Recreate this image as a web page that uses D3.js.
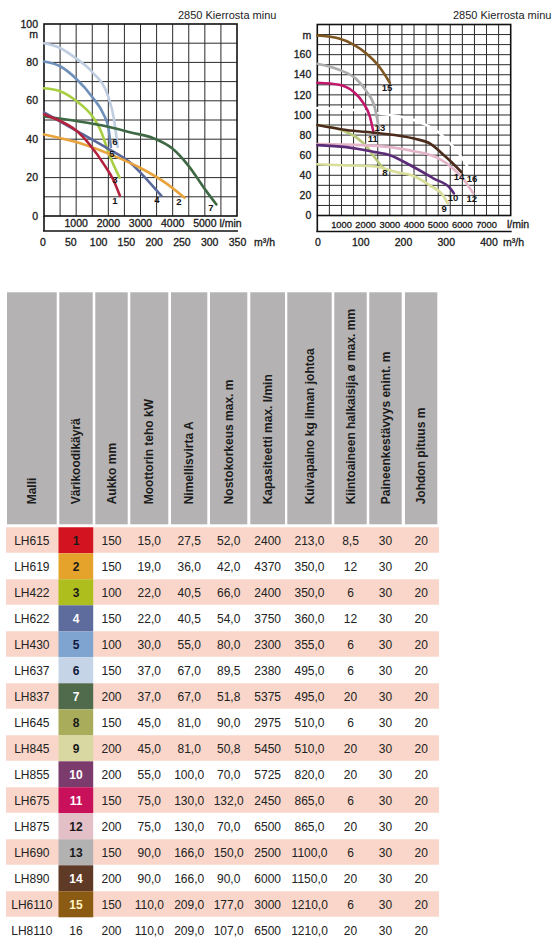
<!DOCTYPE html>
<html>
<head>
<meta charset="utf-8">
<script src="https://cdn.jsdelivr.net/npm/d3@7"></script>
<style>
  html, body { margin: 0; padding: 0; background: #fff; }
  svg { display: block; }
</style>
</head>
<body>
<div id="canvas"></div>
<script>
// Pumppukäyrät (2850 kierrosta) + tekninen taulukko

// --- käyrät: [l/min, m] ---
const curveIds = [1, 2, 3, 4, 5, 6, 7, 8, 9, 10, 11, 12, 13, 14, 15, 16];
const curvePoints = {
  1: [[0,53],[500,49.5],[1000,44.5],[1430,37],[1900,26],[2150,19],[2360,10.5]],
  2: [[0,42.5],[1000,38.5],[2000,32.5],[3000,25],[3800,17],[4370,9.5]],
  3: [[0,66.5],[500,65],[1000,60],[1500,52],[1750,45],[2050,31],[2350,20]],
  4: [[0,54],[1000,44.5],[2000,35],[2700,27.5],[3200,19],[3650,10.5]],
  5: [[0,80.5],[500,78],[1000,71.5],[1500,62],[1850,53],[2000,46],[2080,36]],
  6: [[0,90],[500,87.5],[1000,82],[1500,75],[2000,62],[2170,51],[2290,36]],
  7: [[0,51.8],[1000,49.5],[2000,46.5],[2700,43.5],[3400,40.5],[4000,35],[4500,26],[5000,14],[5360,6]],
  8: [[0,90],[1000,85],[1600,78],[2040,68.5],[2460,55],[2750,47],[2900,45]],
  9: [[0,51],[1000,50],[2300,49],[3300,43],[3900,40],[4650,30],[5200,20],[5400,12]],
  10: [[0,70],[1200,68],[2300,63.5],[3000,60],[3850,50],[4800,37],[5500,27],[5650,22]],
  11: [[0,132],[900,130],[1500,123],[1900,112],[2180,98],[2330,82]],
  12: [[0,71],[1900,70],[3000,68],[4000,64],[5000,57],[5600,47],[6050,36],[6450,22]],
  13: [[0,151],[900,145],[1600,136],[2050,123],[2380,107],[2550,86]],
  14: [[0,90],[1200,85],[2500,82],[4000,76.5],[4700,71],[5100,63],[5600,52],[5970,43]],
  15: [[0,179],[900,176],[1500,170],[2040,161],[2500,150],[2950,134],[3000,132]],
  16: [[0,107],[1500,105],[2600,101.5],[4000,95],[5000,83],[5600,69],[6000,57],[6300,45]]
};
// käyrän numeron paikka [l/min, m]
const curveLabelAt = {
  1: [2207,7.8], 2: [4197,7.3], 3: [2207,18.8], 4: [3513,8.3], 5: [2114,32.3], 6: [2207,38.5], 7: [5192,4.2],
  8: [2801,42.3], 9: [5242,7], 10: [5614,17.4], 11: [2290,76.5], 12: [6388,17.1], 13: [2590,87.5],
  14: [5862,38.8], 15: [2883,127.4], 16: [6400,37]
};
const leftCurves = [6, 5, 3, 7, 4, 2, 1];
const rightCurves = [16, 15, 13, 11, 8, 12, 14, 9, 10];
const curveColors = {
  1: '#b3213d', 2: '#e9a43e', 3: '#a8cf42', 4: '#5a689b', 5: '#6f90ba', 6: '#bfcde1', 7: '#3e6944',
  8: '#b8c878', 9: '#d8dd98', 10: '#5a2c78', 11: '#c2176c', 12: '#e4b4c8', 13: '#acacac',
  14: '#4b2b1c', 15: '#7e5622', 16: '#ffffff'
};

// --- akselit ---
const leftYTicks = [0, 20, 40, 60, 80, 100];
const leftLminTicks = [1000, 2000, 3000, 4000, 5000];
const leftM3hTicks = [0, 50, 100, 150, 200, 250, 300, 350];
const rightYTicks = [0, 20, 40, 60, 80, 100, 120, 140, 160];
const rightLminTicks = [1000, 2000, 3000, 4000, 5000, 6000, 7000];
const rightM3hTicks = [0, 100, 200, 300, 400];
const chartTitle = '2850 Kierrosta minu';

// --- taulukko ---
const headers = ['Malli', 'Värikoodikäyrä', 'Aukko mm', 'Moottorin teho kW', 'Nimellisvirta A',
  'Nostokorkeus max. m', 'Kapasiteetti max. l/min', 'Kuivapaino kg ilman johtoa',
  'Kiintoaineen halkaisija ø max. mm', 'Paineenkestävyys enint. m', 'Johdon pituus m'];
const models = ['LH615','LH619','LH422','LH622','LH430','LH637','LH837','LH645','LH845','LH855','LH675','LH875','LH690','LH890','LH6110','LH8110'];
const colorCodes = [1,2,3,4,5,6,7,8,9,10,11,12,13,14,15,16];
const aukko = [150,150,100,150,100,150,200,150,200,200,150,200,150,200,150,200];
const teho = [15,19,22,22,30,37,37,45,45,55,75,75,90,90,110,110];
const virta = [27.5,36,40.5,40.5,55,67,67,81,81,100,130,130,166,166,209,209];
const nosto = [52,42,66,54,80,89.5,51.8,90,50.8,70,132,70,150,90,177,107];
const kapasiteetti = [2400,4370,2400,3750,2300,2380,5375,2975,5450,5725,2450,6500,2500,6000,3000,6500];
const paino = [213,350,350,360,355,495,495,510,510,820,865,865,1100,1150,1210,1210];
const kiinto = [8.5,12,6,12,6,6,20,6,20,20,6,20,6,20,6,20];
const paine = [30,30,30,30,30,30,30,30,30,30,30,30,30,30,30,30];
const johto = [20,20,20,20,20,20,20,20,20,20,20,20,20,20,20,20];
const codeFill = ['#d3131f','#e5a32b','#aebe1d','#5e6b9d','#80a4d0','#c6d4e7','#4f6b4c','#a9ad5b','#d9d7a2','#7b3c6d','#c9115b','#e3c0c7','#b2b2b2','#5e3a27','#8b5b13', null];
const codeText = ['#1a1a1a','#1a1a1a','#1a1a1a','#ffffff','#10183a','#10183a','#ffffff','#1a1a1a','#1a1a1a','#ffffff','#ffffff','#1a1a1a','#1a1a1a','#ffffff','#fff6c8','#222222'];

const W = 553, H = 946;
const svg = d3.select('#canvas').append('svg').attr('width', W).attr('height', H)
  .style('background', '#fff');

const fmt1 = v => d3.format('.1f')(v).replace('.', ',');
const fmtK = v => Number.isInteger(v) ? String(v) : String(v).replace('.', ',');
const FONT = 'Liberation Sans, Arial, sans-serif';

// hieman lihavoitu akseliteksti kuten kuvassa
const heavy = sel => sel.attr('fill', '#1a1a1a').attr('stroke', '#1a1a1a').attr('stroke-width', 0.3);

function drawChart(cfg){
  const g = svg.append('g');
  const { x, y, mh } = cfg;
  const [x0, x1] = x.range();
  const [yb, yt] = y.range();

  g.append('text')
    .attr('x', cfg.titleX).attr('y', 19).attr('font-family', FONT).attr('font-size', 11)
    .attr('fill', '#222').text(chartTitle);

  // ruudukko
  const grid = g.append('g').attr('stroke', '#2a2a2a').attr('stroke-width', 1);
  grid.selectAll('line.h').data(d3.range(10, y.domain()[1], 10)).enter().append('line')
    .attr('x1', x0).attr('x2', x1).attr('y1', d => y(d)).attr('y2', d => y(d));
  grid.selectAll('line.v').data(d3.range(500, x.domain()[1], 500)).enter().append('line')
    .attr('x1', d => x(d)).attr('x2', d => x(d)).attr('y1', yt).attr('y2', yb);

  // kehys
  const fr = g.append('g').attr('stroke', '#111').attr('stroke-width', 1.6).attr('fill', 'none');
  fr.append('rect').attr('x', x0).attr('y', yt).attr('width', x1 - x0).attr('height', yb - yt);
  fr.append('line').attr('x1', x0).attr('x2', x0).attr('y1', yb).attr('y2', cfg.bottom);
  fr.append('line').attr('x1', x0 - 1).attr('x2', x1 + 1).attr('y1', cfg.bottom).attr('y2', cfg.bottom);

  // käyrät
  const line = d3.line().x(d => x(d[0])).y(d => y(d[1])).curve(d3.curveMonotoneX);
  g.append('g').selectAll('path').data(cfg.curves).enter().append('path')
    .attr('d', id => line(curvePoints[id]))
    .attr('fill', 'none').attr('stroke', id => curveColors[id])
    .attr('stroke-width', 2.6).attr('stroke-linecap', 'round');

  g.append('g').selectAll('text').data(cfg.curves).enter().append('text')
    .attr('x', id => x(curveLabelAt[id][0])).attr('y', id => y(curveLabelAt[id][1]))
    .attr('dy', '0.35em').attr('text-anchor', 'middle')
    .attr('font-family', FONT).attr('font-size', 9.5).attr('font-weight', 'bold')
    .attr('fill', '#151515').text(id => id);

  // y-akseli
  const ya = g.append('g').attr('font-family', FONT).attr('font-size', cfg.fs).call(heavy)
    .attr('text-anchor', 'end');
  ya.selectAll('text').data(cfg.yTicks).enter().append('text')
    .attr('x', x0 - 6).attr('y', d => y(d)).attr('dy', '0.35em').text(d => d);
  ya.append('text').attr('x', x0 - 6).attr('y', y(cfg.mAt)).attr('dy', '0.35em').text('m');

  // l/min
  const la = g.append('g').attr('font-family', FONT).attr('font-size', cfg.fsL).call(heavy);
  la.selectAll('text').data(cfg.lTicks).enter().append('text')
    .attr('x', d => x(d)).attr('y', cfg.lY).attr('text-anchor', 'middle').text(d => d);
  la.append('text').attr('x', cfg.lUnitX).attr('y', cfg.lY).attr('font-size', cfg.fs).text('l/min');

  // m³/h
  const ma = g.append('g').attr('font-family', FONT).attr('font-size', cfg.fs).call(heavy);
  ma.selectAll('text').data(cfg.mTicks).enter().append('text')
    .attr('x', d => mh(d)).attr('y', 246).attr('text-anchor', 'middle').text(d => d);
  ma.append('text').attr('x', cfg.mUnitX).attr('y', 246).text('m³/h');
}

drawChart({
  id: 'L', curves: leftCurves,
  x: d3.scaleLinear().domain([0, 6000]).range([44, 237]),
  y: d3.scaleLinear().domain([0, 100]).range([216, 24]),
  mh: d3.scaleLinear().domain([0, 350]).range([43, 237.5]),
  bottom: 231, titleX: 178,
  yTicks: leftYTicks, mAt: 94.5, fs: 10.5, fsL: 10.5,
  lTicks: leftLminTicks, lY: 226.5, lUnitX: 219.5,
  mTicks: leftM3hTicks, mUnitX: 254
});
drawChart({
  id: 'R', curves: rightCurves,
  x: d3.scaleLinear().domain([0, 8000]).range([317.3, 510.7]),
  y: d3.scaleLinear().domain([0, 190]).range([215.5, 24.5]),
  mh: d3.scaleLinear().domain([0, 400]).range([318, 489]),
  bottom: 231.5, titleX: 453,
  yTicks: rightYTicks, mAt: 179, fs: 10.5, fsL: 9.3,
  lTicks: rightLminTicks, lY: 227.5, lUnitX: 507,
  mTicks: rightM3hTicks, mUnitX: 503
});

// --- taulukko ---
const cols = [[7,56.7],[59.3,92.7],[95.3,127.7],[130.3,168.3],[171,207.3],[210,247.3],[250.3,285],[287.3,331.7],[334.3,366.7],[369.3,401.7],[405,437.3]];
const headTop = 292.3, headBot = 524.3, rowTop = 527.3, rowH = 26;
const cx = i => (cols[i][0] + cols[i][1]) / 2;

const th = svg.append('g');
th.selectAll('rect').data(headers).enter().append('rect')
  .attr('x', (d, i) => cols[i][0]).attr('y', headTop)
  .attr('width', (d, i) => cols[i][1] - cols[i][0]).attr('height', headBot - headTop)
  .attr('fill', '#b4b2b2');
th.selectAll('text').data(headers).enter().append('text')
  .attr('transform', (d, i) => `translate(${cx(i) + 4},${headBot - 20}) rotate(-90)`)
  .attr('font-family', FONT).attr('font-size', 12).attr('font-weight', 'bold')
  .attr('fill', '#1c1c1c').text(d => d);

const rows = models.map((m, i) => [m, colorCodes[i], aukko[i], fmt1(teho[i]), fmt1(virta[i]), fmt1(nosto[i]),
  kapasiteetti[i], fmt1(paino[i]), fmtK(kiinto[i]), paine[i], johto[i]]);

const tb = svg.append('g');
tb.selectAll('rect.band').data(rows.filter((r, i) => i % 2 === 0)).enter().append('rect')
  .attr('x', 6).attr('y', (d, k) => rowTop + k * 2 * rowH).attr('width', 433).attr('height', rowH - 0.6)
  .attr('fill', '#f9d6c9');
tb.selectAll('rect.code').data(codeFill).enter().append('rect')
  .attr('x', 58.5).attr('y', (d, i) => rowTop + i * rowH).attr('width', 34.7).attr('height', rowH)
  .attr('fill', d => d || 'none');

rows.forEach((r, i) => {
  const gy = rowTop + i * rowH + rowH / 2;
  tb.append('g').selectAll('text').data(r).enter().append('text')
    .attr('x', (d, j) => cx(j)).attr('y', gy).attr('dy', '0.35em').attr('text-anchor', 'middle')
    .attr('font-family', FONT).attr('font-size', 12)
    .attr('font-weight', (d, j) => (j === 1 && codeFill[i]) ? 'bold' : 'normal')
    .attr('fill', (d, j) => j === 1 ? codeText[i] : '#222')
    .text(d => d);
});
</script>
</body>
</html>
